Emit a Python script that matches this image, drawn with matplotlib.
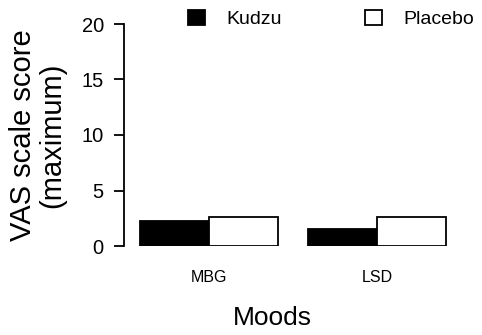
import numpy as np
import matplotlib
matplotlib.use("Agg")
import matplotlib.pyplot as plt

plt.rcParams["font.family"] = ["Liberation Sans", "DejaVu Sans"]

moods = ["MBG", "LSD"]
kudzu = [2.25, 1.5]
placebo = [2.6, 2.6]
yticks = [0, 5, 10, 15, 20]

fig = plt.figure(figsize=(4.82, 3.35), dpi=100)
ax = fig.add_axes([124 / 482, 1 - 246 / 335, (470 - 124) / 482, (246 - 24) / 335])

x = np.arange(len(moods))
w = 0.41
ax.bar(x - w / 2, kudzu, w, color="black", edgecolor="black", linewidth=1.3, label="Kudzu")
ax.bar(x + w / 2, placebo, w, color="white", edgecolor="black", linewidth=1.3, label="Placebo")

ax.set_xlim(-0.506, 1.554)
ax.set_ylim(0, 20)
ax.set_yticks(yticks)
ax.set_xticks(x)
ax.set_xticklabels(moods, fontsize=11.5)
ax.tick_params(axis="x", length=0, pad=17)
ax.tick_params(axis="y", length=7.5, width=1.3, labelsize=14.5, pad=7)

for s in ["top", "right", "bottom"]:
    ax.spines[s].set_visible(False)
ax.spines["left"].set_linewidth(1.3)

ax.set_ylabel("VAS scale score\n(maximum)", fontsize=21, linespacing=1.05)
ax.yaxis.set_label_coords(-0.168, 0.5)
ax.set_xlabel("Moods", fontsize=19)
ax.xaxis.set_label_coords(0.428, -0.27)

ax.legend(loc="upper left", bbox_to_anchor=(0.134, 1.144), ncol=2, frameon=False,
          fontsize=14, handlelength=0.88, handleheight=0.88, columnspacing=4.3,
          handletextpad=1.08)

fig.savefig("out.png", dpi=100)
